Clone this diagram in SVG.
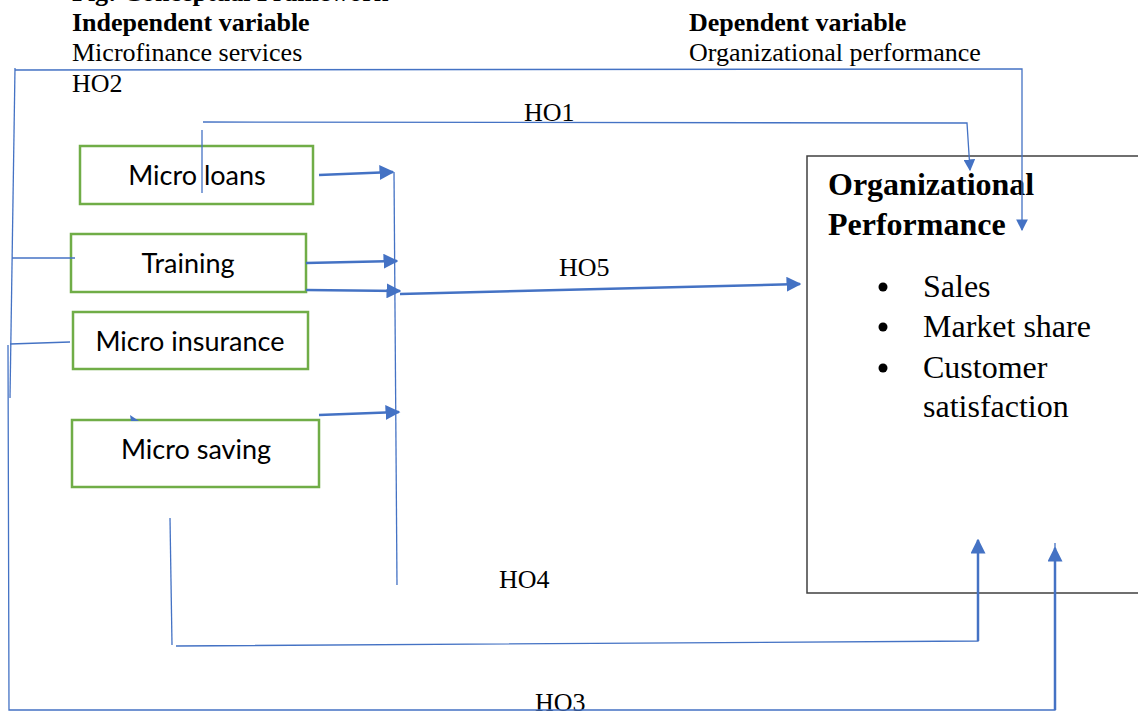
<svg xmlns="http://www.w3.org/2000/svg" width="1138" height="713" viewBox="0 0 1138 713">
<style>
.serif{font-family:"Liberation Serif","Times New Roman",serif;fill:#000;font-size:26px}
.b{font-weight:bold}
.big{font-size:32px}
.sans{font-family:Lato,"Liberation Sans",sans-serif;font-size:27px;fill:#000}
.box{fill:#fff;stroke:#70AD47;stroke-width:2.5}
.thin{fill:none;stroke:#4472C4;stroke-width:1.3}
.thick{fill:none;stroke:#4472C4;stroke-width:2.5}
.arr{fill:#4472C4;stroke:none}
</style>
<defs>
<marker id="ah" viewBox="0 0 10 10" refX="9" refY="5" markerWidth="6" markerHeight="6" markerUnits="strokeWidth" orient="auto">
<path d="M0,0 L10,5 L0,10 Z" class="arr"/>
</marker>
<marker id="ah2" viewBox="0 0 10 10" refX="9" refY="5" markerWidth="9" markerHeight="9" markerUnits="strokeWidth" orient="auto">
<path d="M0,0 L10,5 L0,10 Z" class="arr"/>
</marker>
</defs>
<rect width="1138" height="713" fill="#fff"/>
<g id="headers">
<text x="72" y="1" class="serif b">Fig: Conceptual Framework</text>
<text x="72" y="31" class="serif b">Independent variable</text>
<text x="72" y="61" class="serif">Microfinance services</text>
<text x="689" y="31" class="serif b">Dependent variable</text>
<text x="689" y="61" class="serif">Organizational performance</text>
</g>
<g id="labels">
<text x="72" y="92" class="serif">HO2</text>
<text x="524" y="121" class="serif">HO1</text>
<text x="559" y="276" class="serif">HO5</text>
<text x="499" y="588" class="serif">HO4</text>
<text x="535" y="711" class="serif">HO3</text>
</g>
<g id="micro-loans"><rect x="80" y="146" width="233" height="58" class="box"/><text x="197" y="185" text-anchor="middle" class="sans">Micro loans</text></g>
<g id="training"><rect x="71" y="234" width="235" height="58" class="box"/><text x="188" y="273" text-anchor="middle" class="sans">Training</text></g>
<g id="micro-insurance"><rect x="73" y="312" width="235" height="57" class="box"/><text x="190" y="351" text-anchor="middle" class="sans">Micro insurance</text></g>
<g id="micro-saving"><rect x="72" y="420" width="247" height="67" class="box"/><text x="196" y="459" text-anchor="middle" class="sans">Micro saving</text></g>
<g id="org-performance">
<path d="M1138,156 H807 V593 H1138" fill="none" stroke="#404040" stroke-width="1.5"/>
<text x="828" y="195" class="serif b big">Organizational</text>
<text x="828" y="235" class="serif b big">Performance</text>
<circle cx="883" cy="287" r="4.5" fill="#000"/>
<circle cx="883" cy="327" r="4.5" fill="#000"/>
<circle cx="883" cy="368" r="4.5" fill="#000"/>
<text x="923" y="297" class="serif big">Sales</text>
<text x="923" y="337" class="serif big">Market share</text>
<text x="923" y="378" class="serif big">Customer</text>
<text x="923" y="417" class="serif big">satisfaction</text>
</g>
<g id="connectors">
<path d="M15,70 L1022,69 L1022,230" class="thin" marker-end="url(#ah2)"/>
<path d="M15,68 L10,398" class="thin"/>
<path d="M12,258 L75,258" class="thin"/>
<path d="M10,344 L70,342" class="thin"/>
<path d="M8,345 L9,710 L1055,710 L1055,543" class="thin"/>
<path d="M1055,710 L1055,548" class="thick" marker-end="url(#ah)"/>
<path d="M203,122 L967,123 L970,170" class="thin" marker-end="url(#ah2)"/>
<path d="M202,130 L202,193" class="thin"/>
<path d="M319,175 L393,172" class="thick" marker-end="url(#ah)"/>
<path d="M306,263 L397,261" class="thick" marker-end="url(#ah)"/>
<path d="M306,290 L400,291" class="thick" marker-end="url(#ah)"/>
<path d="M319,415 L399,412" class="thick" marker-end="url(#ah)"/>
<path d="M130,415 L139,421 L131,421 Z" class="arr"/>
<path d="M394,172 L397,585" class="thin"/>
<path d="M400,294 L800,284" class="thick" marker-end="url(#ah)"/>
<path d="M170,518 L172,645" class="thin"/>
<path d="M176,646 L978,641 L978,540" class="thin"/>
<path d="M978,641 L978,540" class="thick" marker-end="url(#ah)"/>
</g>
</svg>
